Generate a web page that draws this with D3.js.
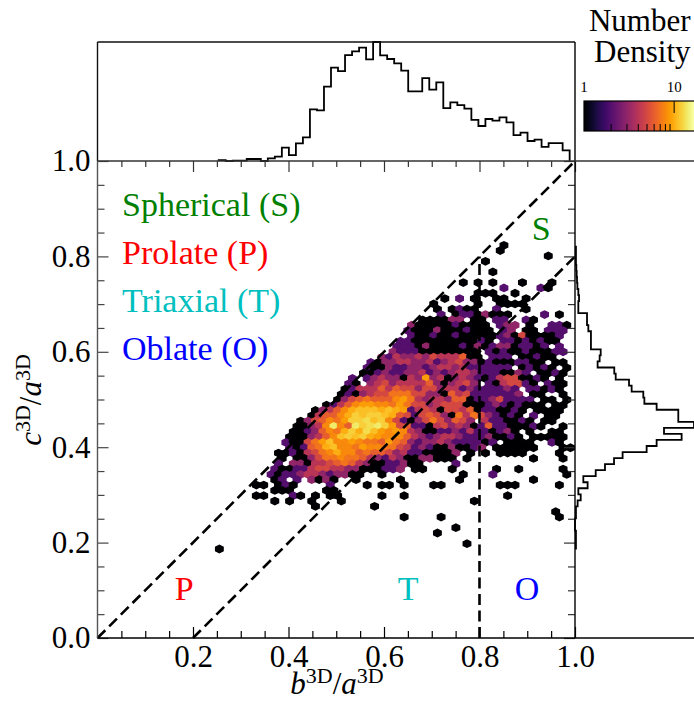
<!DOCTYPE html>
<html>
<head>
<meta charset="utf-8">
<script src="https://cdn.jsdelivr.net/npm/d3@7"></script>
<style>
  html, body { margin: 0; padding: 0; background: #fff; }
  text { font-family: "Liberation Serif", "Times New Roman", serif; }
</style>
</head>
<body>
<div id="chart"></div>
<script>
// top histogram of b/a, 50 bins, height relative to the peak bin
var bHistStart = 0.2538;
var bHistWidth = 0.0147;
var bHist = [0.8, 0, 0.3, 0.3, 1.7, 1.7, 0, 2.2, 3.6, 11.2,
    5, 14.8, 19.9, 43.4, 42.6, 62.5, 78.4, 75.6, 89, 92.2,
    95.2, 85.4, 100, 88.8, 85.7, 82, 75.9, 58.5, 58.5, 69.7,
    59.9, 66.1, 44.5, 49.3, 47, 44, 34.5, 29.4, 35.3, 33.9,
    36.7, 32.5, 21.8, 23.8, 16.8, 17.9, 11.8, 15.1, 15.1, 9];

// right histogram of c/a, 50 bins from the top down
var cHistTop = 0.8203;
var cHistWidth = 0.01266;
var cHist = [0.8, 0.8, 0.8, 1.1, 1.4, 1.7, 2, 2.8, 3.4, 2.8,
    2.8, 10.1, 10.1, 11.2, 13.4, 13.4, 13.4, 21.6, 20.7, 19,
    33, 34.2, 45.4, 47.6, 57.4, 58.3, 68.6, 86.8, 86.8, 100,
    74.8, 89.6, 68.6, 60.2, 40, 32.8, 25.2, 17.4, 7, 10.6,
    2.8, 4.8, 2.2, 0.8, 0.8, 0, 0, 0.8, 0.8, 0.8];

// hexbin lattice, in data units
var hexB0 = 0.2552;
var hexDB = 0.01548;
var hexC0 = 0.1866;
var hexDC = 0.01117;

// counts per hex row, top row first. "." = empty, a=10, b=11 ... (spaces only group columns by 5)
var hexCounts = [
    "..... ..... ..... ..... ..... ..... ..... ...1. ..... ...",
    "..... ..... ..... ..... ..... ..... ..... ...1. ..... ...",
    "..... ..... ..... ..... ..... ..... ..... ..... ....1 ...",
    "..... ..... ..... ..... ..... ..... ..... .1... ..... ...",
    "..... ..... ..... ..... ..... ..... ..... ..... ..... ...",
    "..... ..... ..... ..... ..... ..... ..... ..1.. ..... ...",
    "..... ..... ..... ..... ..... ..... ..... ..... ..... ...",
    "..... ..... ..... ..... ..... ..... ...1. 1.1.. .1... 1..",
    "..... ..... ..... ..... ..... ..... ..... ...2. ...21 ...",
    "..... ..... ..... ..... ..... ..... ..... 111.. 1.... ...",
    "..... ..... ..... ..... ..... ..... 1.2.1 ..11. .1... ...",
    "..... ..... ..... ..... ..... ....1 ..... 1..11 11... ...",
    "..... ..... ..... ..... ..... ....1 .1211 ..2.. .1... ...",
    "..... ..... ..... ..... ..... ..... 2.122 13111 ....2 .1.",
    "..... ..... ..... ..... ..... ..111 133.1 1.22. .21.. ...",
    "..... ..... ..... ..... ..... .3111 11211 11.23 3.1.. 221",
    "..... ..... ..... ..... ..... 21113 11121 11.23 .11.2 22.",
    "..... ..... ..... ..... ..... .2112 11211 11123 15111 12.",
    "..... ..... ..... ..... ....2 21111 11111 21.22 12121 1..",
    "..... ..... ..... ..... ....2 22131 11121 31233 12212 .2.",
    "..... ..... ..... ..... ...32 22111 11111 .2121 12111 22.",
    "..... ..... ..... ..... ..324 33435 44461 1.222 .1121 1..",
    "..... ..... ..... ..... 21334 43342 34533 12111 2211. 11.",
    "..... ..... ..... ..... 21132 23323 44342 22222 .1212 1.1",
    "..... ..... ..... ....1 12322 33423 23443 22211 32.11 21.",
    "..... ..... ..... ...2. 23433 14393 41343 21245 51121 .1.",
    "..... ..... ..... ..21. 34534 44463 13453 .2145 521.2 11.",
    "..... ..... ..... ..124 44646 55355 34423 22223 2.221 21.",
    "..... ..... ..... .1213 45577 75533 16452 22222 3.11. .1.",
    "..... ..... ..... .1356 76668 97434 43661 22352 222.1 1.1",
    "..... ..... ....1 24689 98879 75534 55511 12321 2111. 11.",
    "..... ..... ...13 468ab bbaba 92454 15546 12211 21.11 11.",
    "..... ..... ..146 68acb ccba6 52565 31747 53212 1.2.1 1..",
    "..... ..... .1356 879cc dbc85 21357 53653 .4221 121.1 1..",
    "..... ..... 11348 e86ec dec95 62214 53431 26221 1121. .1.",
    "..... ..... 11236 87aca db989 84311 22324 22123 1.1.. 11.",
    "..... ....1 11346 8bcbc a9888 64323 44322 23112 1.111 11.",
    "..... ....2 11579 b8898 77697 63233 43222 212.1 111.. 21.",
    "..... ....2 1267a b8879 88775 42321 13112 3.111 111.. .11",
    "..... ...11 21457 8a886 76653 42211 113.1 .1.11 11... .1.",
    "..... ...1. 11357 78776 43243 11331 11.1. ..... ..1.. .1.",
    "..... ...2. 33144 56764 31122 311.. ..2.. ..... ..... ...",
    "..... ..211 22455 44331 11223 .11.. .1... ..1.. 1.... .1.",
    "..... ..212 23443 23311 ..1.. ..... ...1. ..2.. ..... ..1",
    "..... ..12. 2.313 1..1. ....1 ..... ..1.. ..... ..1.. ...",
    "..... 11.12 1.... 2.... 1.11. 1...1 1.... ...11 1.... .1.",
    "..... ..111 ....1 1.... ..... ..... ..... ..... ..... ...",
    "..... 11... 21.1. 11... ..1.. 1.... ..... ....1 ..... ...",
    "..... ..1.1 ..1.. .1... ..... ..... ....1 ..... ..... ...",
    "..... ..... ...1. ..... .1... ..... ..... ..... ..... ...",
    "..... ..... ..... ..... ..... ..... ..... ..... ..... 1..",
    "..... ..... ..... ..... ..... 1.... 1.... ..... ..... .1.",
    "..... ..... ..... ..... ..... ..... ..... ..... ..... ...",
    "..... ..... ..... ..... ..... ..... ..1.. ..... ..... ...",
    "..... ..... ..... ..... ..... ....1 ..... ..... ..... ...",
    "..... ..... ..... ..... ..... ..... ..... ..... ..... ...",
    "..... ..... ..... ..... ..... ..... ...1. ..... ..... ...",
    "1.... ..... ..... ..... ..... ..... ..... ..... ..... ..."
];

var majorTicks = [0.2, 0.4, 0.6, 0.8, 1.0];
var yMajorTicks = [0.0, 0.2, 0.4, 0.6, 0.8, 1.0];
var minorTicks = [0.05, 0.1, 0.15, 0.25, 0.3, 0.35, 0.45, 0.5, 0.55, 0.65, 0.7, 0.75, 0.85, 0.9, 0.95];
var cbarMinor = [2, 3, 4, 5, 6, 7, 8, 9];
var cbarMajor = [1, 10];
var cbarMax = 16.6;

var legendNames = ["Spherical (S)", "Prolate (P)", "Triaxial (T)", "Oblate (O)"];
var legendColors = ["#008000", "#ff0000", "#00bfbf", "#0000ff"];

var width = 694;
var height = 701;
var left = 97.5, right = 575, top_ = 161, bottom = 638, histTop = 42;

var svg = d3.select("#chart").append("svg")
    .attr("width", width)
    .attr("height", height)
    .style("display", "block");

var x = d3.scaleLinear().domain([0, 1]).range([left, right]);
var y = d3.scaleLinear().domain([0, 1]).range([bottom, top_]);
var color = d3.scaleSequentialLog(d3.interpolateInferno).domain([1, cbarMax]);

// unpack the rows into hex cells
var cells = [];
hexCounts.forEach(function(row, i) {
    var r = hexCounts.length - 1 - i;
    row.replace(/ /g, "").split("").forEach(function(ch, k) {
        if (ch === ".") return;
        cells.push({
            b: hexB0 + hexDB * (k + (r % 2) / 2),
            c: hexC0 + hexDC * r,
            n: parseInt(ch, 36)
        });
    });
});

var hexLine = d3.line().x(d => x(d[0])).y(d => y(d[1]));
function hexPath(d) {
    var sx = hexDB / 2, sa = hexDC * 2 / 3, ss = hexDC / 3;
    return hexLine([[d.b + sx, d.c - ss], [d.b + sx, d.c + ss], [d.b, d.c + sa],
        [d.b - sx, d.c + ss], [d.b - sx, d.c - ss], [d.b, d.c - sa]]) + "Z";
}

svg.append("g").selectAll("path")
    .data(cells)
    .enter().append("path")
    .attr("d", hexPath)
    .style("fill", d => color(d.n))
    .style("stroke", d => color(d.n))
    .style("stroke-width", 1.5);

// dashed guide lines
var guides = [[[0, 0], [1, 1]], [[0.2, 0], [1, 0.8]], [[0.8, 0], [0.8, 0.8]]];
svg.append("g").selectAll("line")
    .data(guides)
    .enter().append("line")
    .attr("x1", d => x(d[0][0]))
    .attr("y1", d => y(d[0][1]))
    .attr("x2", d => x(d[1][0]))
    .attr("y2", d => y(d[1][1]))
    .style("stroke", "#000")
    .style("stroke-width", 2.6)
    .style("stroke-dasharray", "11,5.5");

// histograms
var xTopHist = d3.scaleLinear().domain([0, 100]).range([top_, histTop]);
var xRightHist = d3.scaleLinear().domain([0, 100]).range([right, width]);

var topPts = [[bHistStart, 0]];
bHist.forEach(function(v, i) {
    topPts.push([bHistStart + i * bHistWidth, v]);
    topPts.push([bHistStart + (i + 1) * bHistWidth, v]);
});
topPts.push([bHistStart + bHist.length * bHistWidth, 0]);

var rightPts = [[0, cHistTop]];
cHist.forEach(function(v, i) {
    rightPts.push([v, cHistTop - i * cHistWidth]);
    rightPts.push([v, cHistTop - (i + 1) * cHistWidth]);
});
rightPts.push([0, cHistTop - cHist.length * cHistWidth]);

svg.append("path")
    .attr("d", d3.line().x(d => x(d[0])).y(d => xTopHist(d[1]))(topPts))
    .style("fill", "none")
    .style("stroke", "#000")
    .style("stroke-width", 1.8);

svg.append("path")
    .attr("d", d3.line().x(d => xRightHist(d[0])).y(d => y(d[1]))(rightPts))
    .style("fill", "none")
    .style("stroke", "#000")
    .style("stroke-width", 1.8);

// axes
function styleAxis(g, col) {
    g.select(".domain").remove();
    g.selectAll("line").style("stroke", col).style("stroke-width", 1.2);
    g.selectAll("text").style("font-size", "31px").style("fill", "#000")
        .style("font-family", "'Liberation Serif', serif");
}

svg.append("g").attr("transform", "translate(0," + bottom + ")")
    .call(d3.axisBottom(x).tickValues(majorTicks).tickFormat(d3.format(".1f")).tickSizeInner(-11).tickPadding(8))
    .call(styleAxis, "#000")
    .selectAll("text").attr("y", 7).attr("dy", "0.71em");
svg.append("g").attr("transform", "translate(0," + bottom + ")")
    .call(d3.axisBottom(x).tickValues(minorTicks).tickFormat("").tickSizeInner(-7))
    .call(styleAxis, "#000");

svg.append("g").attr("transform", "translate(0," + top_ + ")")
    .call(d3.axisTop(x).tickValues(majorTicks).tickFormat("").tickSizeInner(-11))
    .call(styleAxis, "#333");
svg.append("g").attr("transform", "translate(0," + top_ + ")")
    .call(d3.axisTop(x).tickValues(minorTicks).tickFormat("").tickSizeInner(-6))
    .call(styleAxis, "#333");

svg.append("g").attr("transform", "translate(" + left + ",0)")
    .call(d3.axisLeft(y).tickValues(yMajorTicks).tickFormat(d3.format(".1f")).tickSizeInner(-11).tickPadding(7))
    .call(styleAxis, "#444");
svg.append("g").attr("transform", "translate(" + left + ",0)")
    .call(d3.axisLeft(y).tickValues(minorTicks).tickFormat("").tickSizeInner(-7))
    .call(styleAxis, "#444");

svg.append("g").attr("transform", "translate(" + right + ",0)")
    .call(d3.axisRight(y).tickValues(yMajorTicks).tickFormat("").tickSizeInner(-11))
    .call(styleAxis, "#333");
svg.append("g").attr("transform", "translate(" + right + ",0)")
    .call(d3.axisRight(y).tickValues(minorTicks).tickFormat("").tickSizeInner(-7))
    .call(styleAxis, "#333");

// frames
var frames = [
    [left, histTop, right, histTop, "#111"],
    [left, histTop, left, top_, "#111"],
    [right, histTop, right, bottom, "#000"],
    [left, top_, width, top_, "#333"],
    [left, top_, left, bottom, "#555"],
    [left, bottom, width, bottom, "#000"]
];
svg.append("g").selectAll("line")
    .data(frames)
    .enter().append("line")
    .attr("x1", d => d[0]).attr("y1", d => d[1])
    .attr("x2", d => d[2]).attr("y2", d => d[3])
    .style("stroke", d => d[4])
    .style("stroke-width", 1.4);

// shape labels
svg.append("g").selectAll("text")
    .data(legendNames)
    .enter().append("text")
    .attr("x", 122)
    .attr("y", (d, i) => 216 + i * 48)
    .style("font-size", "34px")
    .style("fill", (d, i) => legendColors[i])
    .text(d => d);

var regionLabels = [
    { t: "S", b: 0.929, c: 0.835, col: legendColors[0] },
    { t: "P", b: 0.1815, c: 0.08, col: legendColors[1] },
    { t: "T", b: 0.6505, c: 0.08, col: legendColors[2] },
    { t: "O", b: 0.8995, c: 0.08, col: legendColors[3] }
];
svg.append("g").selectAll("text")
    .data(regionLabels)
    .enter().append("text")
    .attr("x", d => x(d.b))
    .attr("y", d => y(d.c))
    .attr("text-anchor", "middle")
    .style("font-size", "34px")
    .style("fill", d => d.col)
    .text(d => d.t);

// axis titles
function axisTitle(g, a, b) {
    var t = g.append("text").style("font-size", "31px").attr("text-anchor", "middle");
    t.append("tspan").style("font-style", "italic").text(a);
    t.append("tspan").attr("dy", -11).style("font-size", "22px").text("3D");
    t.append("tspan").attr("dy", 11).text("/");
    t.append("tspan").style("font-style", "italic").text(b);
    t.append("tspan").attr("dy", -11).style("font-size", "22px").text("3D");
    return t;
}
axisTitle(svg.append("g").attr("transform", "translate(337,694)"), "b", "a");
axisTitle(svg.append("g").attr("transform", "translate(41,400) rotate(-90)"), "c", "a");

// colour bar
var cbar = d3.scaleLog().domain([1, cbarMax]).range([584, 694]);
var cbarTop = 101, cbarBottom = 131;
svg.append("g").selectAll("rect")
    .data(d3.range(584, 694))
    .enter().append("rect")
    .attr("x", d => d)
    .attr("y", cbarTop)
    .attr("width", 1.2)
    .attr("height", cbarBottom - cbarTop)
    .style("fill", d => color(cbar.invert(d + 0.5)));
svg.append("rect")
    .attr("x", 584).attr("y", cbarTop)
    .attr("width", 111).attr("height", cbarBottom - cbarTop)
    .style("fill", "none").style("stroke", "#000").style("stroke-width", 1.2);

svg.append("g").selectAll("line")
    .data(cbarMinor)
    .enter().append("line")
    .attr("x1", d => cbar(d)).attr("x2", d => cbar(d))
    .attr("y1", cbarBottom).attr("y2", cbarBottom - 7)
    .style("stroke", "#000").style("stroke-width", 1);
svg.append("line")
    .attr("x1", cbar(10)).attr("x2", cbar(10))
    .attr("y1", cbarTop).attr("y2", cbarTop + 12)
    .style("stroke", "#000").style("stroke-width", 1);

svg.append("g").selectAll("text")
    .data(cbarMajor)
    .enter().append("text")
    .attr("x", d => cbar(d))
    .attr("y", 92)
    .attr("text-anchor", "middle")
    .style("font-size", "15px")
    .text(d => d);

svg.append("text").attr("x", 690.5).attr("y", 31).attr("text-anchor", "end")
    .style("font-size", "31px").text("Number");
svg.append("text").attr("x", 690.5).attr("y", 62).attr("text-anchor", "end")
    .style("font-size", "31px").text("Density");
</script>
</body>
</html>
